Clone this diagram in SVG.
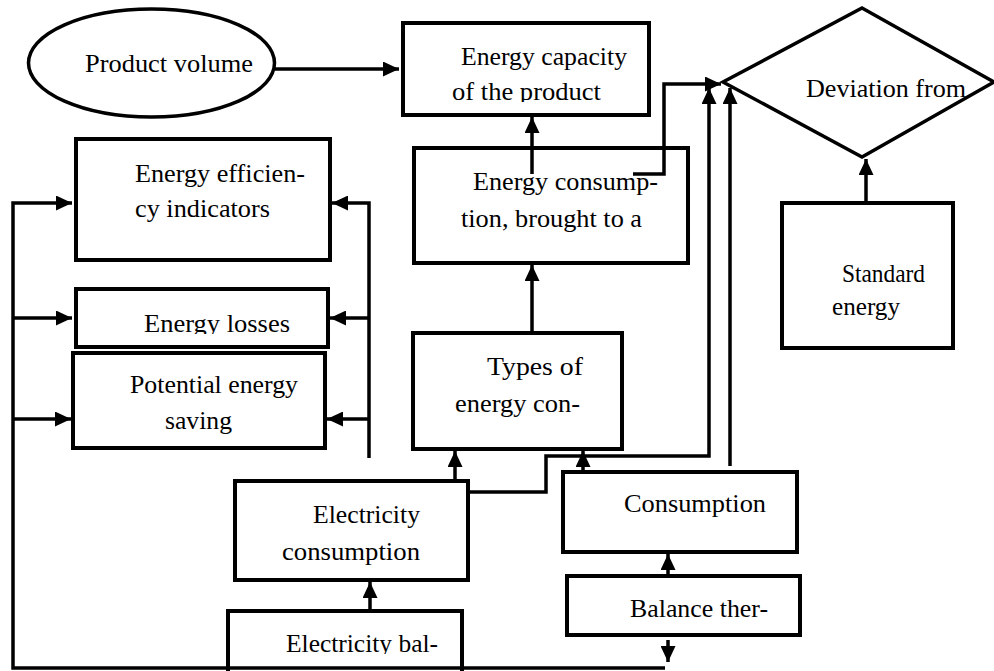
<svg xmlns="http://www.w3.org/2000/svg" width="994" height="671" viewBox="0 0 994 671">
<style>
.box{fill:#fff;stroke:#000;stroke-width:4}
.shape{fill:#fff;stroke:#000;stroke-width:3.5}
.con{fill:none;stroke:#000;stroke-width:3.5}
.arr{marker-end:url(#ah)}
text{font-family:'Liberation Serif','DejaVu Serif','Times New Roman',serif;font-size:26px;fill:#000}
</style>
<defs>
<marker id="ah" markerUnits="userSpaceOnUse" markerWidth="17" markerHeight="15" refX="16" refY="7.5" orient="auto">
<path d="M0,0 L16,7.5 L0,15 z" fill="#000"/>
</marker>
<clipPath id="c1"><rect x="403" y="23" width="246" height="79"/></clipPath>
<clipPath id="c2"><rect x="76" y="289" width="252" height="45"/></clipPath>
<clipPath id="c3"><rect x="228" y="611" width="234" height="43"/></clipPath>
</defs>
<rect width="994" height="671" fill="#fff"/>

<g id="product-volume">
<ellipse class="shape" cx="151.5" cy="63" rx="123" ry="54"/>
<text x="85" y="72" textLength="168" lengthAdjust="spacingAndGlyphs">Product volume</text>
</g>

<g id="energy-capacity">
<rect class="box" x="403" y="23" width="246" height="92"/>
<text x="461" y="65" textLength="166" lengthAdjust="spacingAndGlyphs">Energy capacity</text>
<text x="452" y="100" clip-path="url(#c1)" textLength="149" lengthAdjust="spacingAndGlyphs">of the product</text>
</g>

<g id="energy-consumption-unit">
<rect class="box" x="414" y="148" width="274" height="115"/>
<text x="473" y="190" textLength="185" lengthAdjust="spacingAndGlyphs">Energy consump-</text>
<text x="461" y="227" textLength="181" lengthAdjust="spacingAndGlyphs">tion, brought to a</text>
</g>

<g id="deviation">
<polygon class="shape" points="862,8 994,82 862,157 723,82"/>
<text x="806" y="97" textLength="160" lengthAdjust="spacingAndGlyphs">Deviation from</text>
</g>

<g id="standard-energy">
<rect class="box" x="782" y="203" width="171" height="145"/>
<text x="842" y="282" textLength="83" lengthAdjust="spacingAndGlyphs">Standard</text>
<text x="832" y="315" textLength="68" lengthAdjust="spacingAndGlyphs">energy</text>
</g>

<g id="energy-efficiency">
<rect class="box" x="76" y="139" width="254" height="121"/>
<text x="135" y="182" textLength="170" lengthAdjust="spacingAndGlyphs">Energy efficien-</text>
<text x="135" y="217" textLength="135" lengthAdjust="spacingAndGlyphs">cy indicators</text>
</g>

<g id="energy-losses">
<rect class="box" x="76" y="289" width="252" height="58"/>
<text x="144" y="332" clip-path="url(#c2)" textLength="146" lengthAdjust="spacingAndGlyphs">Energy losses</text>
</g>

<g id="potential-saving">
<rect class="box" x="73" y="353" width="252" height="95"/>
<text x="130" y="393" textLength="168" lengthAdjust="spacingAndGlyphs">Potential energy</text>
<text x="165" y="429" textLength="67" lengthAdjust="spacingAndGlyphs">saving</text>
</g>

<g id="types">
<rect class="box" x="413" y="333" width="209" height="116"/>
<text x="487" y="375" textLength="96" lengthAdjust="spacingAndGlyphs">Types of</text>
<text x="455" y="412" textLength="125" lengthAdjust="spacingAndGlyphs">energy con-</text>
</g>

<g id="electricity-consumption">
<rect class="box" x="235" y="481" width="233" height="99"/>
<text x="313" y="523" textLength="107" lengthAdjust="spacingAndGlyphs">Electricity</text>
<text x="282" y="560" textLength="138" lengthAdjust="spacingAndGlyphs">consumption</text>
</g>

<g id="consumption">
<rect class="box" x="563" y="472" width="234" height="80"/>
<text x="624" y="512" textLength="142" lengthAdjust="spacingAndGlyphs">Consumption</text>
</g>

<g id="balance-thermal">
<rect class="box" x="567" y="576" width="233" height="59"/>
<text x="630" y="617" textLength="138" lengthAdjust="spacingAndGlyphs">Balance ther-</text>
</g>

<g id="electricity-balance">
<rect class="box" x="228" y="611" width="234" height="62"/>
<text x="286" y="652" clip-path="url(#c3)" textLength="152" lengthAdjust="spacingAndGlyphs">Electricity bal-</text>
</g>

<g id="connectors">
<path class="con arr" d="M275,69 H399"/>
<path class="con arr" d="M532,174 V117"/>
<path class="con arr" d="M532,333 V265"/>
<path class="con arr" d="M633,174 H664 V84 H721"/>
<path class="con arr" d="M468,492 H546 V456 H709 V88"/>
<path class="con arr" d="M730,466 V88"/>
<path class="con arr" d="M866,203 V159"/>
<path class="con arr" d="M455,481 V451"/>
<path class="con arr" d="M583,472 V451"/>
<path class="con arr" d="M668,576 V554"/>
<path class="con arr" d="M370,611 V582"/>
<path class="con arr" d="M668,640 V662"/>
<path class="con arr" d="M665,668 H13 V203 H72"/>
<path class="con arr" d="M13,318 H72"/>
<path class="con arr" d="M13,419 H71"/>
<path class="con arr" d="M369,458 V203 H332"/>
<path class="con arr" d="M369,318 H330"/>
<path class="con arr" d="M369,419 H327"/>
</g>
</svg>
